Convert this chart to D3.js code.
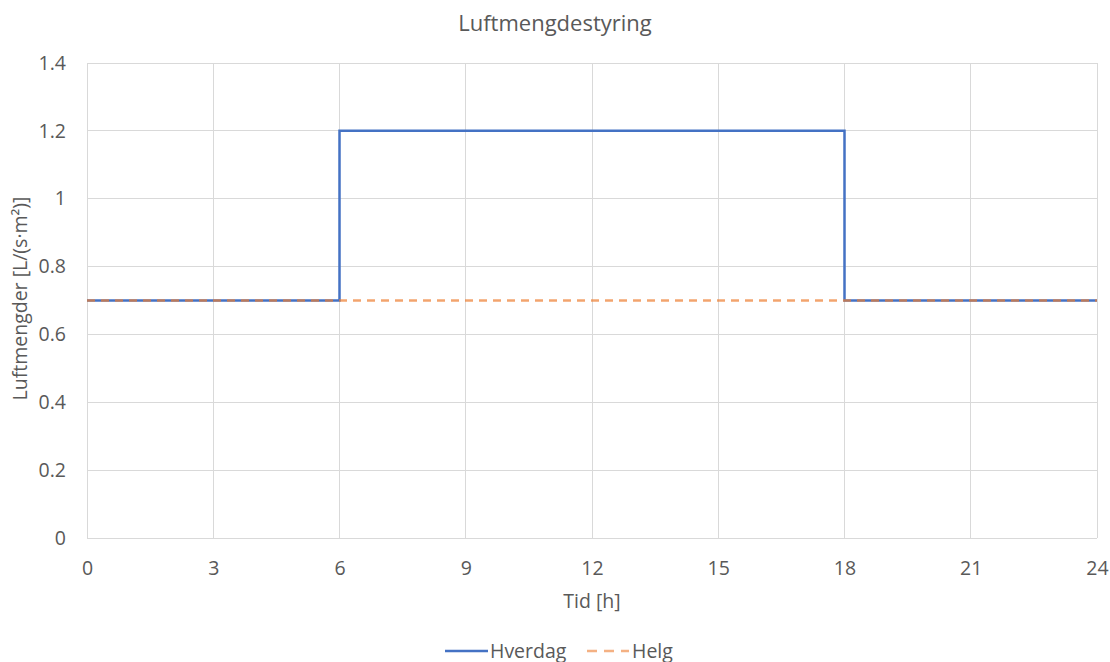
<!DOCTYPE html>
<html>
<head>
<meta charset="utf-8">
<script src="https://cdn.jsdelivr.net/npm/d3@7"></script>
<style>
  html, body { margin: 0; padding: 0; background: #fff; }
  svg text { font-family: "Open Sans", Lato, sans-serif; fill: #595959; }
</style>
</head>
<body>
<svg id="chart" width="1110" height="662"></svg>
<script>
// Hourly airflow schedule (step changes at the listed hours)
const hours = [0, 6, 18, 24];
const hverdag = [0.7, 1.2, 0.7, 0.7];
const helg = [0.7, 0.7, 0.7, 0.7];
const xTicks = [0, 3, 6, 9, 12, 15, 18, 21, 24];
const yTicks = [0, 0.2, 0.4, 0.6, 0.8, 1, 1.2, 1.4];

const svg = d3.select("#chart");
const margin = { left: 87, right: 13, top: 63, bottom: 124 };
const W = 1110, H = 662;

const x = d3.scaleLinear().domain([0, 24]).range([margin.left, W - margin.right]);
const y = d3.scaleLinear().domain([0, 1.4]).range([H - margin.bottom, margin.top]);

// Gridlines
svg.append("g")
  .selectAll("line")
  .data(yTicks)
  .join("line")
  .attr("x1", x(0)).attr("x2", x(24))
  .attr("y1", d => y(d)).attr("y2", d => y(d))
  .attr("stroke", "#d9d9d9").attr("stroke-width", 1)
  .attr("shape-rendering", "crispEdges");

svg.append("g")
  .selectAll("line")
  .data(xTicks)
  .join("line")
  .attr("x1", d => x(d)).attr("x2", d => x(d))
  .attr("y1", y(0)).attr("y2", y(1.4))
  .attr("stroke", "#d9d9d9").attr("stroke-width", 1)
  .attr("shape-rendering", "crispEdges");

// Axes (labels only, lines are the gridlines)
const xAxis = d3.axisBottom(x).tickValues(xTicks).tickSize(0).tickPadding(0).tickFormat(d3.format("d"));
const gx = svg.append("g").attr("transform", `translate(0,${y(0)})`).call(xAxis);
gx.select(".domain").remove();
gx.selectAll("text").attr("dy", null).attr("y", 37).style("font-size", "19.5px").attr("fill", "#595959");

const yAxis = d3.axisLeft(y).tickValues(yTicks).tickSize(0).tickPadding(21).tickFormat(d => d === 0 ? "0" : d3.format("~g")(d));
const gy = svg.append("g").attr("transform", `translate(${x(0)},0)`).call(yAxis);
gy.select(".domain").remove();
gy.selectAll("text").style("font-size", "19.5px").attr("fill", "#595959");

// Series
const line = d3.line()
  .x((d, i) => x(hours[i]))
  .y(d => y(d))
  .curve(d3.curveStepAfter);

svg.append("path")
  .datum(hverdag)
  .attr("d", line)
  .attr("fill", "none")
  .attr("stroke", "#4472c4")
  .attr("stroke-width", 2.5);

svg.append("path")
  .datum(helg)
  .attr("d", line)
  .attr("fill", "none")
  .attr("stroke", "#ed7d31")
  .attr("stroke-opacity", 0.7)
  .attr("stroke-width", 2.5)
  .attr("stroke-dasharray", "8,6");

// Title
svg.append("text")
  .attr("x", 555).attr("y", 31)
  .attr("text-anchor", "middle")
  .style("font-size", "22px")
  .text("Luftmengdestyring");

// Axis titles
svg.append("text")
  .attr("x", (x(0) + x(24)) / 2).attr("y", 608)
  .attr("text-anchor", "middle")
  .style("font-size", "19.5px")
  .text("Tid [h]");

svg.append("text")
  .attr("transform", `translate(27,${(y(0) + y(1.4)) / 2 - 2}) rotate(-90)`)
  .attr("text-anchor", "middle")
  .style("font-size", "19.5px")
  .text("Luftmengder [L/(s·m²)]");

// Legend
const legend = svg.append("g").attr("transform", "translate(0,651)");
legend.append("line")
  .attr("x1", 445).attr("x2", 488).attr("y1", 0).attr("y2", 0)
  .attr("stroke", "#4472c4").attr("stroke-width", 2.5);
legend.append("text").attr("x", 490).attr("y", 7).style("font-size", "19.5px").text("Hverdag");
legend.append("line")
  .attr("x1", 587).attr("x2", 629).attr("y1", 0).attr("y2", 0)
  .attr("stroke", "#f4b183").attr("stroke-width", 2.5)
  .attr("stroke-dasharray", "10,7");
legend.append("text").attr("x", 632).attr("y", 7).style("font-size", "19.5px").text("Helg");
</script>
</body>
</html>
